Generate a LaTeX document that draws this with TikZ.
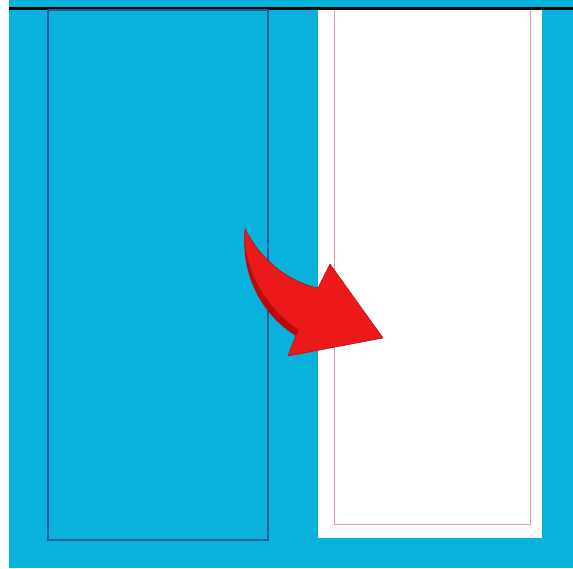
\documentclass[tikz,border=0pt]{standalone}
\usepackage{xcolor}
\usetikzlibrary{positioning,calc}
\definecolor{sky}{RGB}{8,178,218}
\definecolor{panelblue}{RGB}{25,95,150}
\definecolor{pinkline}{RGB}{225,160,160}
\definecolor{arrowred}{RGB}{235,25,25}
\definecolor{arrowdark}{RGB}{185,10,15}

\begin{document}
\begin{tikzpicture}[x=0.02cm, y=-0.02cm]
        \tikzstyle{panel} = [draw=panelblue, line width=0.8pt, fill=sky]
        \tikzstyle{sheet} = [fill=white]
        \tikzstyle{margin} = [draw=pinkline, line width=0.5pt]
        \tikzstyle{bigarrow} = [fill=arrowred, draw=arrowdark, line width=0.3pt]

        % Background
        \fill[white] (0,0) rectangle (573,568);
        \fill[sky] (9,0) rectangle (573,568);
        \useasboundingbox (0,0) rectangle (573,568);
        \draw[black, line width=1.6pt] (9,8.5) -- (573,8.5);

        % Left panel
        \draw[panel] (48,10) rectangle (268,540);

        % Right sheet
        \fill[sheet] (318,10) rectangle (542,538);
        \draw[margin] (334,10) -- (334,524) -- (530,524) -- (530,10);

        % Curved arrow
        \path[bigarrow] (245,229)
            .. controls (262,262) and (290,282) .. (318,288)
            -- (330,264) -- (383,338) -- (288,356) -- (298,330)
            .. controls (262,305) and (242,265) .. cycle;
        % shaded side of the shaft
        \fill[arrowdark] (245,229)
            .. controls (242,265) and (262,305) .. (298,330)
            -- (296,336) .. controls (262,315) and (240,275) .. cycle;
\end{tikzpicture}
\end{document}
